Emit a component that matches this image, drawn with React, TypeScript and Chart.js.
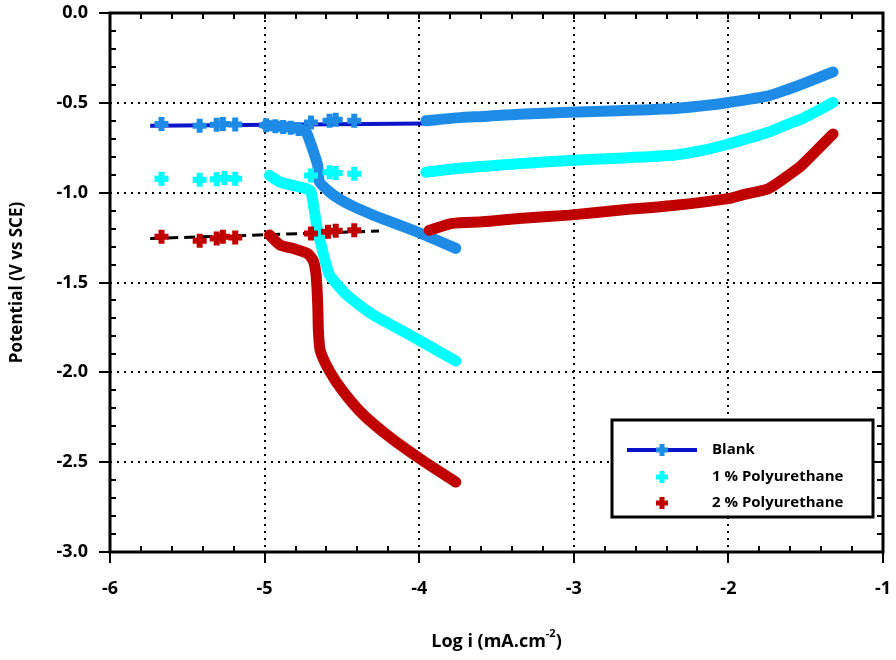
import React, { useEffect, useRef } from 'react';
import { Chart, registerables } from 'chart.js';

Chart.register(...registerables);

const FONT = '"Open Sans", "Liberation Sans", sans-serif';

// ---- axis ticks ----
const xMin = -6;
const xMax = -1;
const yMin = -3;
const yMax = 0;

// ---- Blank ----
const blankPtsX = [-5.667, -5.42, -5.31, -5.27, -5.19, -4.99, -4.93, -4.88, -4.83, -4.78, -4.70, -4.58, -4.54, -4.42];
const blankPtsY = [-0.618, -0.627, -0.622, -0.618, -0.620, -0.625, -0.630, -0.634, -0.638, -0.645, -0.609, -0.600, -0.594, -0.600];
const blankCathX = [-4.99, -4.85, -4.77, -4.73, -4.69, -4.656, -4.645, -4.58, -4.516, -4.43, -4.30, -4.236, -4.13, -4.0, -3.763];
const blankCathY = [-0.625, -0.635, -0.645, -0.664, -0.757, -0.849, -0.94, -0.996, -1.035, -1.075, -1.124, -1.146, -1.18, -1.223, -1.31];
const blankAnodX = [-3.957, -3.72, -3.59, -3.355, -3.03, -2.71, -2.344, -2.148, -2.0, -1.742, -1.613, -1.527, -1.323];
const blankAnodY = [-0.600, -0.581, -0.576, -0.563, -0.553, -0.544, -0.531, -0.515, -0.498, -0.461, -0.424, -0.397, -0.328];
const blankLineX = [-5.74, -3.96];
const blankLineY = [-0.627, -0.615];

// ---- 1 % Polyurethane ----
const pu1PtsX = [-5.667, -5.42, -5.31, -5.26, -5.19, -4.70, -4.58, -4.54, -4.42];
const pu1PtsY = [-0.922, -0.928, -0.926, -0.919, -0.922, -0.904, -0.886, -0.890, -0.895];
const pu1CathX = [-4.968, -4.90, -4.817, -4.73, -4.70, -4.677, -4.656, -4.634, -4.613, -4.58, -4.47, -4.30, -4.086, -3.763];
const pu1CathY = [-0.904, -0.941, -0.959, -0.978, -0.996, -1.107, -1.218, -1.291, -1.365, -1.457, -1.568, -1.679, -1.78, -1.937];
const pu1AnodX = [-3.957, -3.72, -3.59, -3.355, -3.03, -2.71, -2.344, -2.17, -2.0, -1.742, -1.613, -1.527, -1.323];
const pu1AnodY = [-0.886, -0.863, -0.854, -0.839, -0.821, -0.808, -0.79, -0.765, -0.729, -0.664, -0.618, -0.59, -0.498];

// ---- 2 % Polyurethane ----
const pu2PtsX = [-5.667, -5.42, -5.31, -5.27, -5.19, -4.70, -4.59, -4.54, -4.42];
const pu2PtsY = [-1.245, -1.268, -1.255, -1.245, -1.25, -1.227, -1.218, -1.212, -1.209];
const pu2CathX = [-4.968, -4.90, -4.817, -4.72, -4.685, -4.668, -4.66, -4.655, -4.652, -4.64, -4.58, -4.495, -4.366, -4.19, -3.978, -3.763];
const pu2CathY = [-1.236, -1.291, -1.31, -1.34, -1.38, -1.45, -1.55, -1.66, -1.77, -1.88, -1.993, -2.103, -2.232, -2.361, -2.491, -2.611];
const pu2AnodX = [-3.935, -3.785, -3.59, -3.355, -3.03, -2.71, -2.344, -2.0, -1.903, -1.742, -1.613, -1.527, -1.323];
const pu2AnodY = [-1.209, -1.171, -1.162, -1.144, -1.125, -1.098, -1.07, -1.033, -1.011, -0.978, -0.904, -0.849, -0.673];
const pu2LineX = [-5.74, -4.26];
const pu2LineY = [-1.255, -1.214];

const legendLabels = ['Blank', '1 % Polyurethane', '2 % Polyurethane'];

const BLUE = '#1E8CE6';
const BLUE_LINE = '#0A14C8';
const CYAN = '#00FFFF';
const RED = '#C00000';

const pts = (xs: number[], ys: number[]) => xs.map((x, i) => ({ x, y: ys[i] }));

const markers = (xs: number[], ys: number[], color: string) => ({
  data: pts(xs, ys),
  showLine: false,
  pointStyle: 'cross',
  pointRadius: 7,
  pointBorderWidth: 6,
  pointBorderColor: color,
  pointBackgroundColor: color,
  borderColor: color,
  backgroundColor: color,
});

const band = (xs: number[], ys: number[], color: string) => ({
  data: pts(xs, ys),
  showLine: true,
  pointRadius: 0,
  borderWidth: 11,
  borderColor: color,
  backgroundColor: color,
  borderCapStyle: 'round',
  borderJoinStyle: 'round',
  tension: 0.2,
});

function drawPlus(ctx: CanvasRenderingContext2D, x: number, y: number, color: string) {
  ctx.save();
  ctx.strokeStyle = color;
  ctx.lineWidth = 5;
  ctx.beginPath();
  ctx.moveTo(x - 6, y);
  ctx.lineTo(x + 6, y);
  ctx.moveTo(x, y - 6);
  ctx.lineTo(x, y + 6);
  ctx.stroke();
  ctx.restore();
}

const framePlugin = {
  id: 'frameTicks',
  afterDraw(chart: any) {
    const { ctx, chartArea: a, scales } = chart;
    const xs = scales.x;
    const ys = scales.y;
    ctx.save();
    ctx.strokeStyle = '#000';
    ctx.lineWidth = 2;
    ctx.beginPath();
    for (let i = 0; i <= 25; i++) {
      const v = xMin + i * 0.2;
      const px = Math.round(xs.getPixelForValue(v));
      const major = i % 5 === 0;
      if (major) {
        ctx.moveTo(px, a.bottom);
        ctx.lineTo(px, a.bottom + 11);
        ctx.moveTo(px, a.top);
        ctx.lineTo(px, a.top + 6);
      } else {
        ctx.moveTo(px, a.bottom);
        ctx.lineTo(px, a.bottom - 6);
        ctx.moveTo(px, a.top);
        ctx.lineTo(px, a.top + 6);
      }
    }
    for (let i = 0; i <= 30; i++) {
      const v = yMin + i * 0.1;
      const py = Math.round(ys.getPixelForValue(v));
      const major = i % 5 === 0;
      if (major) {
        ctx.moveTo(a.left - 11, py);
        ctx.lineTo(a.left, py);
        ctx.moveTo(a.right, py);
        ctx.lineTo(a.right - 11, py);
      } else {
        ctx.moveTo(a.left, py);
        ctx.lineTo(a.left + 6, py);
        ctx.moveTo(a.right, py);
        ctx.lineTo(a.right - 6, py);
      }
    }
    ctx.stroke();
    ctx.lineWidth = 3;
    ctx.strokeRect(a.left, a.top, a.right - a.left, a.bottom - a.top);

    // axis titles
    ctx.fillStyle = '#000';
    ctx.font = `bold 17px ${FONT}`;
    ctx.textAlign = 'center';
    ctx.textBaseline = 'middle';
    ctx.save();
    ctx.translate(17, (a.top + a.bottom) / 2);
    ctx.rotate(-Math.PI / 2);
    ctx.fillText('Potential (V vs SCE)', 0, 0);
    ctx.restore();

    const main = 'Log i (mA.cm';
    const sup = '-2';
    const close = ')';
    ctx.font = `bold 18px ${FONT}`;
    const wMain = ctx.measureText(main).width;
    const wClose = ctx.measureText(close).width;
    ctx.font = `bold 11px ${FONT}`;
    const wSup = ctx.measureText(sup).width;
    const total = wMain + wSup + wClose;
    let sx = (a.left + a.right) / 2 - total / 2;
    const ty = 647;
    ctx.textAlign = 'left';
    ctx.textBaseline = 'alphabetic';
    ctx.font = `bold 18px ${FONT}`;
    ctx.fillText(main, sx, ty);
    sx += wMain;
    ctx.font = `bold 11px ${FONT}`;
    ctx.fillText(sup, sx, ty - 10);
    sx += wSup;
    ctx.font = `bold 18px ${FONT}`;
    ctx.fillText(close, sx, ty);

    // legend
    const lx = 612, ly = 420, lw = 261, lh = 97;
    ctx.fillStyle = '#fff';
    ctx.fillRect(lx, ly, lw, lh);
    ctx.strokeStyle = '#000';
    ctx.lineWidth = 3;
    ctx.strokeRect(lx, ly, lw, lh);
    const rows = [450, 477, 503];
    const cols = [BLUE, CYAN, RED];
    ctx.strokeStyle = BLUE_LINE;
    ctx.lineWidth = 4;
    ctx.beginPath();
    ctx.moveTo(627, rows[0]);
    ctx.lineTo(697, rows[0]);
    ctx.stroke();
    ctx.font = `bold 15px ${FONT}`;
    ctx.textBaseline = 'middle';
    rows.forEach((ry, i) => {
      drawPlus(ctx, 662, ry, cols[i]);
      ctx.fillStyle = '#000';
      ctx.fillText(legendLabels[i], 712, ry);
    });
    ctx.restore();
  },
};

const zeroPad = (s: any) => {
  s.paddingLeft = 0;
  s.paddingRight = 0;
  s.paddingTop = 0;
  s.paddingBottom = 0;
};

export default function App() {
  const ref = useRef<HTMLCanvasElement | null>(null);
  useEffect(() => {
    if (!ref.current) return;
    const chart = new Chart(ref.current, {
      type: 'scatter',
      data: {
        datasets: [
          markers(pu2PtsX, pu2PtsY, RED),
          band(pu2CathX, pu2CathY, RED),
          band(pu2AnodX, pu2AnodY, RED),
          markers(pu1PtsX, pu1PtsY, CYAN),
          band(pu1CathX, pu1CathY, CYAN),
          band(pu1AnodX, pu1AnodY, CYAN),
          markers(blankPtsX, blankPtsY, BLUE),
          band(blankCathX, blankCathY, BLUE),
          band(blankAnodX, blankAnodY, BLUE),
          {
            data: pts(blankLineX, blankLineY),
            showLine: true,
            pointRadius: 0,
            borderWidth: 4,
            borderColor: BLUE_LINE,
          },
          {
            data: pts(pu2LineX, pu2LineY),
            showLine: true,
            pointRadius: 0,
            borderWidth: 3,
            borderColor: '#000',
            borderDash: [11, 6],
          },
        ] as any,
      },
      options: {
        animation: false,
        responsive: false,
        events: [],
        layout: { padding: { top: 10, right: 10, left: 0, bottom: 0 } },
        plugins: { legend: { display: false }, tooltip: { enabled: false } },
        scales: {
          x: {
            type: 'linear',
            min: xMin,
            max: xMax,
            afterFit: (s: any) => { s.height = 108; zeroPad(s); },
            ticks: {
              stepSize: 1,
              padding: 26,
              color: '#000',
              font: { family: FONT, size: 18, weight: 'bold' },
              callback: (v: any) => String(v),
            },
            grid: { color: '#000', lineWidth: 2, drawTicks: false },
            border: { display: false, dash: [2, 5] },
          },
          y: {
            type: 'linear',
            min: yMin,
            max: yMax,
            afterFit: (s: any) => { s.width = 110; zeroPad(s); },
            ticks: {
              stepSize: 0.5,
              padding: 22,
              color: '#000',
              font: { family: FONT, size: 18, weight: 'bold' },
              callback: (v: any) => Number(v).toFixed(1),
            },
            grid: { color: '#000', lineWidth: 2, drawTicks: false },
            border: { display: false, dash: [2, 5] },
          },
        },
      } as any,
      plugins: [framePlugin],
    });
    return () => chart.destroy();
  }, []);
  return (
    <div style={{ position: 'fixed', left: 0, top: 0, width: 896, height: 660, background: '#fff' }}>
      <canvas ref={ref} width={896} height={660} />
    </div>
  );
}
